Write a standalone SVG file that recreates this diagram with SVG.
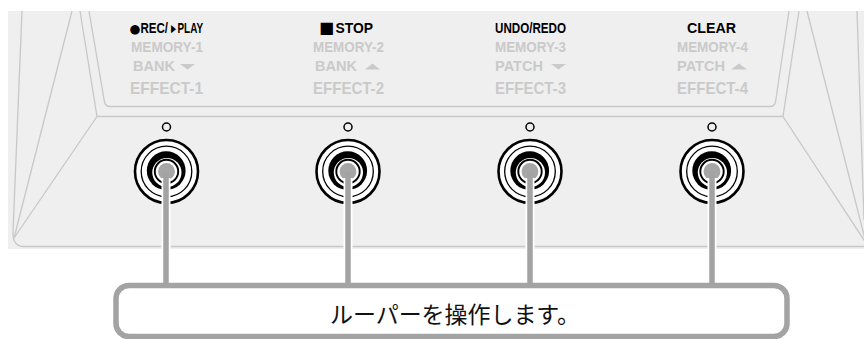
<svg xmlns="http://www.w3.org/2000/svg" width="864" height="339" viewBox="0 0 864 339">
<style>
.pl{fill:none;stroke:#c8c8c8;stroke-width:1.3}
.blk{font-family:"Liberation Sans",Arial,sans-serif;font-weight:bold;font-size:14px;fill:#000}
.sym{font-family:"DejaVu Sans",sans-serif;font-weight:normal;fill:#000}
.gr{font-family:"Liberation Sans",Arial,sans-serif;font-weight:bold;font-size:14.5px;fill:#cacaca}
.ef{font-family:"Liberation Sans",Arial,sans-serif;font-weight:bold;font-size:17px;fill:#cacaca}
.tri{fill:#cacaca}
.conW{stroke:#fff;stroke-width:9;fill:none}
.con{stroke:#a3a3a3;stroke-width:5.5;fill:none}
.jp{font-family:"Noto Sans CJK JP","Noto Sans CJK SC",sans-serif;font-size:23px;fill:#111}
</style>
<defs>
<g id="sw">
<circle cx="0" cy="-44.5" r="4" fill="none" stroke="#000" stroke-width="1.5"/>
<circle cx="0" cy="0" r="31.5" fill="#fff" stroke="#000" stroke-width="2.6"/>
<circle cx="0" cy="0" r="25.3" fill="none" stroke="#000" stroke-width="1.3"/>
<circle cx="-0.3" cy="-0.8" r="19.4" fill="#000"/>
<circle cx="0.4" cy="1" r="14.6" fill="#fff"/>
<circle cx="0" cy="0" r="11.7" fill="none" stroke="#000" stroke-width="1.9"/>
<circle cx="0" cy="0" r="8.4" fill="#a6a6a6"/>
</g>
</defs>
<g id="panel">
<rect x="8" y="11" width="856" height="238" fill="#efefef"/>
<path class="pl" d="M22,11 L13,232 Q12.5,246.5 24,246.5 L864,246.5"/>
<path class="pl" d="M72,11 L14,238"/>
<path class="pl" d="M80,11 L97,116.5 L783,116.5 L799,11"/>
<path class="pl" d="M97,116.5 L14,238"/>
<path class="pl" d="M89,11 L104.5,102 Q105.5,106.5 110,106.5 L770,106.5 Q774.5,106.5 775.5,102 L789,11"/>
<path class="pl" d="M783,116.5 L866,243"/>
<path class="pl" d="M807,11 L866,243"/>
<path class="pl" d="M857,11 L864,220"/>
</g>
<g id="labels">
<text y="32.5"><tspan class="sym" x="129.5" style="font-size:12.5px">●</tspan><tspan class="blk" x="140.5" textLength="27.5" lengthAdjust="spacingAndGlyphs">REC/</tspan><tspan class="sym" x="171" dy="-0.5" style="font-size:11px" textLength="5" lengthAdjust="spacingAndGlyphs">▶</tspan><tspan class="blk" x="177.5" dy="0.5" textLength="25.5" lengthAdjust="spacingAndGlyphs">PLAY</tspan></text>
<text y="32.5"><tspan class="sym" x="319" style="font-size:16px">■</tspan><tspan class="blk" x="335.5" textLength="37.5" lengthAdjust="spacingAndGlyphs">STOP</tspan></text>
<text class="blk" x="495" y="32.5" textLength="71" lengthAdjust="spacingAndGlyphs">UNDO/REDO</text>
<text class="blk" x="687" y="32.5" textLength="49" lengthAdjust="spacingAndGlyphs">CLEAR</text>
<text class="gr" x="131" y="52" textLength="72" lengthAdjust="spacingAndGlyphs">MEMORY-1</text>
<text class="gr" x="313" y="52" textLength="71" lengthAdjust="spacingAndGlyphs">MEMORY-2</text>
<text class="gr" x="495" y="52" textLength="71" lengthAdjust="spacingAndGlyphs">MEMORY-3</text>
<text class="gr" x="677" y="52" textLength="71" lengthAdjust="spacingAndGlyphs">MEMORY-4</text>
<text class="gr" x="133" y="70.5" textLength="42" lengthAdjust="spacingAndGlyphs">BANK</text>
<polygon class="tri" points="180,64 195,64 187.5,69.5"/>
<text class="gr" x="315" y="70.5" textLength="42" lengthAdjust="spacingAndGlyphs">BANK</text>
<polygon class="tri" points="365,69.5 380,69.5 372.5,63.5"/>
<text class="gr" x="495" y="70.5" textLength="48" lengthAdjust="spacingAndGlyphs">PATCH</text>
<polygon class="tri" points="551,64 566,64 558.5,69.5"/>
<text class="gr" x="677" y="70.5" textLength="48" lengthAdjust="spacingAndGlyphs">PATCH</text>
<polygon class="tri" points="731,69.5 747,69.5 739,63.5"/>
<text class="ef" x="130" y="93.5" textLength="73" lengthAdjust="spacingAndGlyphs">EFFECT-1</text>
<text class="ef" x="313" y="93.5" textLength="71" lengthAdjust="spacingAndGlyphs">EFFECT-2</text>
<text class="ef" x="495" y="93.5" textLength="71" lengthAdjust="spacingAndGlyphs">EFFECT-3</text>
<text class="ef" x="677" y="93.5" textLength="71" lengthAdjust="spacingAndGlyphs">EFFECT-4</text>
</g>
<g id="switch1"><use href="#sw" x="166.5" y="171.5"/></g>
<g id="switch2"><use href="#sw" x="348" y="171.5"/></g>
<g id="switch3"><use href="#sw" x="530" y="171.5"/></g>
<g id="switch4"><use href="#sw" x="712" y="171.5"/></g>
<g id="connectors">
<path class="conW" d="M166,178 V283 M348,178 V283 M530,178 V283 M712,178 V283"/>
<path class="con" d="M166,171.5 V286 M348,171.5 V286 M530,171.5 V286 M712,171.5 V286"/>
</g>
<g id="callout">
<rect x="116" y="285.5" width="671" height="51" rx="13" fill="#fff" stroke="#a3a3a3" stroke-width="5.5"/>
<text class="jp" x="330" y="323" textLength="250">ルーパーを操作します。</text>
</g>
</svg>
